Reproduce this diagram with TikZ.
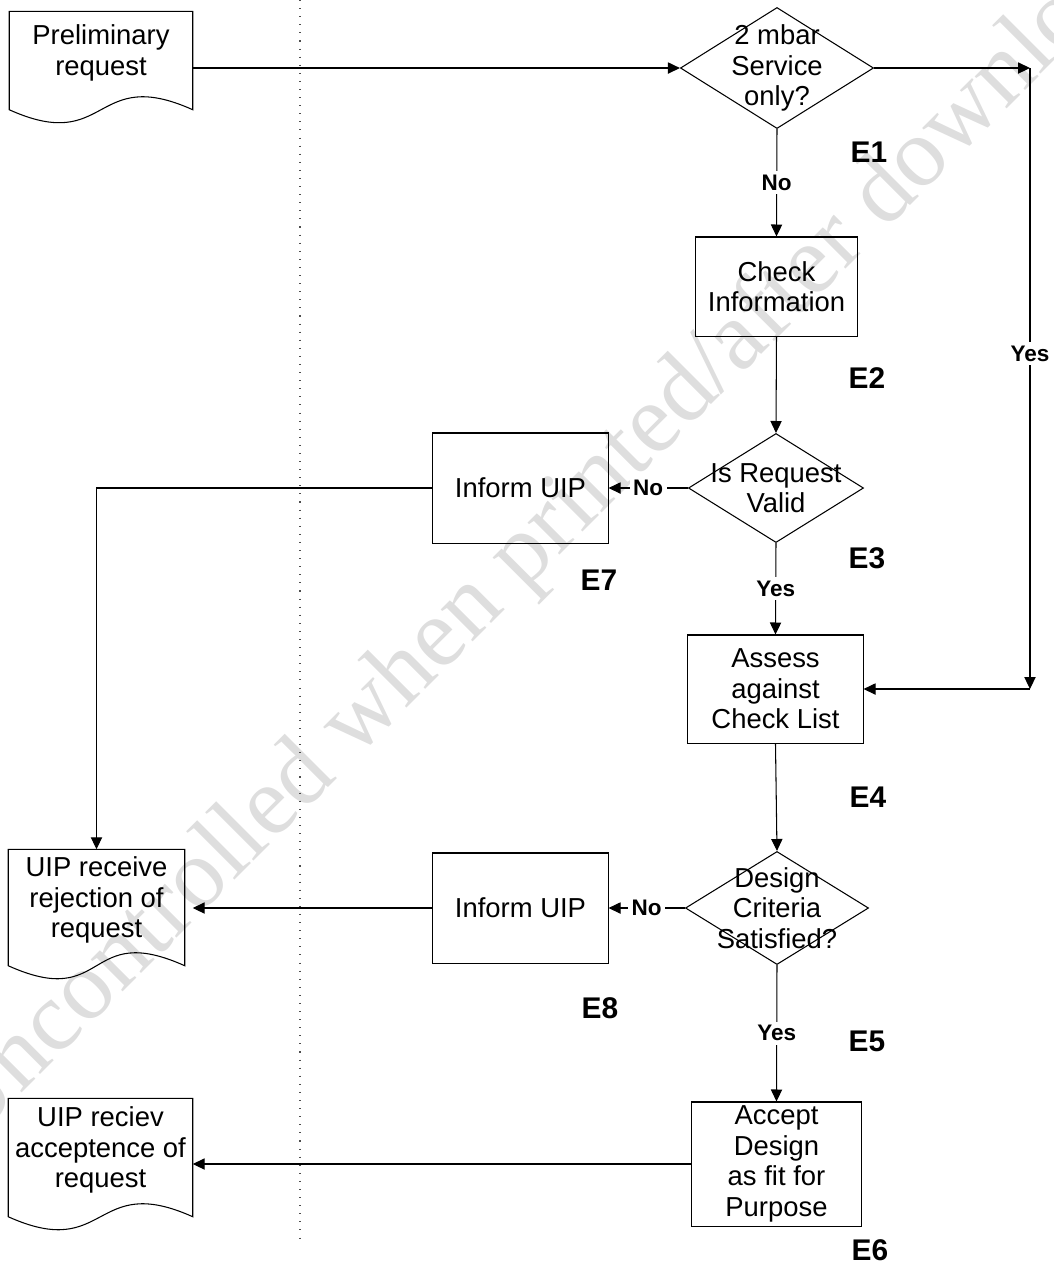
\documentclass[tikz,border=0pt]{standalone}
\usepackage{fontspec}
\setmainfont{Liberation Sans}
\newfontfamily\wmfont{Liberation Serif}
\usetikzlibrary{shapes.geometric,arrows.meta,calc}
\tikzset{
	procbox/.style={rectangle,draw=black,line width=0.3pt,align=center,inner sep=0pt,font=\fontsize{7.8}{8.7}\selectfont},
	docbox/.style={rectangle,align=center,inner sep=0pt,font=\fontsize{7.8}{8.7}\selectfont},
	decision/.style={diamond,draw=black,line width=0.3pt,inner sep=0pt},
	decisiontext/.style={align=center,font=\fontsize{7.8}{8.7}\selectfont},
	edge/.style={color=black,line width=0.3pt},
	diredge/.style={-{Triangle[length=3.4pt,width=3.2pt]},color=black,line width=0.3pt},
	divider/.style={black!70,line width=0.3pt,dotted},
	choicelabel/.style={fill=white,inner sep=1pt,font=\bfseries\fontsize{6.4}{7}\selectfont},
	elabel/.style={font=\bfseries\fontsize{8.5}{9}\selectfont},
	watermark/.style={rotate=45,text=black!13,font=\wmfont\fontsize{28}{28}\selectfont}
}
% document outline with wavy bottom
\newcommand{\docoutline}[1]{%
	\draw[edge] (#1.north west) -- (#1.north east) -- ($(#1.south east)+(0,15)$)
	.. controls +(-100,-45) and +(100,45) .. ($(#1.south west)+(0,15)$) -- cycle;}

\begin{document}
\begin{tikzpicture}[x=0.01cm,y=-0.01cm]
	\useasboundingbox (0,0) rectangle (1053,1265);

	%% watermark
	\node[watermark] (wm) at (548,533) {Uncontrolled when printed/after download};

	%% divider
	\coordinate (divtop) at (300,0);
	\coordinate (divbot) at (300,1240);
	\draw[divider] (divtop) -- (divbot);

	%% documents
	\node[docbox,minimum width=1.82cm,minimum height=0.82cm] (pre) at (101,53) {Preliminary\\request};
	\node[docbox,minimum width=1.75cm,minimum height=1.0cm] (rej) at (96.5,900) {UIP receive\\rejection of\\request};
	\node[docbox,minimum width=1.83cm,minimum height=1.02cm] (acc) at (100.5,1150) {UIP reciev\\acceptence of\\request};
	\docoutline{pre}
	\docoutline{rej}
	\docoutline{acc}

	%% decisions
	\node[decision,minimum width=1.93cm,minimum height=1.21cm,
	label={[decisiontext]center:2 mbar\\Service\\only?}] (svc) at (777,68) {};
	\node[decision,minimum width=1.75cm,minimum height=1.09cm,
	label={[decisiontext]center:Is Request\\Valid}] (valid) at (776,488) {};
	\node[decision,minimum width=1.83cm,minimum height=1.13cm,
	label={[decisiontext]center:Design\\Criteria\\Satisfied?}] (crit) at (777,908) {};

	%% processes
	\node[procbox,minimum width=1.61cm,minimum height=0.99cm] (check) at (776.5,286.5) {Check\\Information};
	\node[procbox,minimum width=1.75cm,minimum height=1.10cm] (inf1) at (520.5,488) {Inform UIP};
	\node[procbox,minimum width=1.75cm,minimum height=1.08cm] (assess) at (775.5,689) {Assess\\against\\Check List};
	\node[procbox,minimum width=1.75cm,minimum height=1.10cm] (inf2) at (520.5,908) {Inform UIP};
	\node[procbox,minimum width=1.69cm,minimum height=1.24cm] (accept) at (776.5,1164) {Accept\\Design\\as fit for\\Purpose};

	%% step labels
	\node[elabel] (e1) at (869,152) {E1};
	\node[elabel] (e2) at (867,378) {E2};
	\node[elabel] (e3) at (867,558) {E3};
	\node[elabel] (e4) at (868,797) {E4};
	\node[elabel] (e5) at (867,1041) {E5};
	\node[elabel] (e6) at (870,1250) {E6};
	\node[elabel] (e7) at (599,580) {E7};
	\node[elabel] (e8) at (600,1008) {E8};

	%%%%%% EDGES
	\coordinate (yestop) at (1030,68);
	\coordinate (yesbot) at (yestop |- assess.east);

	%% main line
	\draw[diredge] (pre.east |- svc.west) -- (svc.west);
	\draw[diredge] (svc.south) to node[choicelabel] {No} (check.north);
	\draw[diredge] (check.south) -- (valid.north);
	\draw[diredge] (valid.south) to node[choicelabel] {Yes} (assess.north);
	\draw[diredge] (assess.south) -- (crit.north);
	\draw[diredge] (crit.south) to node[choicelabel] {Yes} (accept.north);

	%% 2 mbar bypass
	\draw[diredge] (svc.east) -- (yestop);
	\draw[diredge] (yestop) to node[choicelabel,pos=0.46] {Yes} (yesbot);
	\draw[diredge] (yesbot) -- (assess.east);

	%% rejections
	\draw[diredge] (valid.west) to node[choicelabel] {No} (inf1.east);
	\draw[diredge] (inf1.west) -| (rej.north);
	\draw[diredge] (crit.west) to node[choicelabel] {No} (inf2.east);
	\draw[diredge] (inf2.west) -- ([xshift=0.08cm]rej.east |- inf2.west);

	%% acceptance
	\draw[diredge] (accept.west) -- (acc.east |- accept.west);
\end{tikzpicture}
\end{document}
